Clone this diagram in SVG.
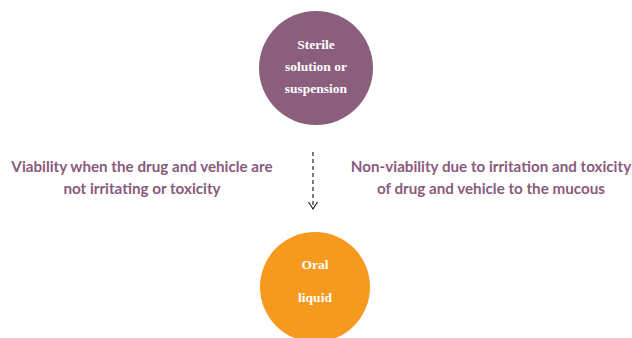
<svg xmlns="http://www.w3.org/2000/svg" width="632" height="338" viewBox="0 0 632 338">
<defs>
<style>
.lbl{font-family:Lato,"Open Sans",sans-serif;font-weight:bold;font-size:15.2px;fill:#8a5a7c;text-anchor:middle}
.ct{font-family:"Liberation Serif",serif;font-weight:bold;font-size:13.5px;fill:#fff;text-anchor:middle}
</style>
<marker id="ah" markerWidth="12" markerHeight="12" refX="9" refY="6" orient="auto" markerUnits="userSpaceOnUse">
<path d="M2,1.5 L9,6 L2,10.5" fill="none" stroke="#222" stroke-width="1.2"/>
</marker>
</defs>
<rect width="632" height="338" fill="#fff"/>
<g id="sterile">
<circle cx="316" cy="68" r="57" fill="#8b5e7d"/>
<text class="ct" x="316" y="49">Sterile</text>
<text class="ct" x="316" y="71">solution or</text>
<text class="ct" x="316" y="93">suspension</text>
</g>
<g id="oral">
<circle cx="315" cy="287" r="55" fill="#f6991f"/>
<text class="ct" x="315" y="269">Oral</text>
<text class="ct" x="315" y="302">liquid</text>
</g>
<g id="viability">
<text class="lbl" x="142" y="172">Viability when the drug and vehicle are</text>
<text class="lbl" x="142" y="194">not irritating or toxicity</text>
</g>
<g id="nonviability">
<text class="lbl" x="491" y="172">Non-viability due to irritation and toxicity</text>
<text class="lbl" x="491" y="194">of drug and vehicle to the mucous</text>
</g>
<g id="connectors">
<line x1="313" y1="152" x2="313" y2="209" stroke="#222" stroke-width="1.2" stroke-dasharray="4,3" marker-end="url(#ah)"/>
</g>
</svg>
